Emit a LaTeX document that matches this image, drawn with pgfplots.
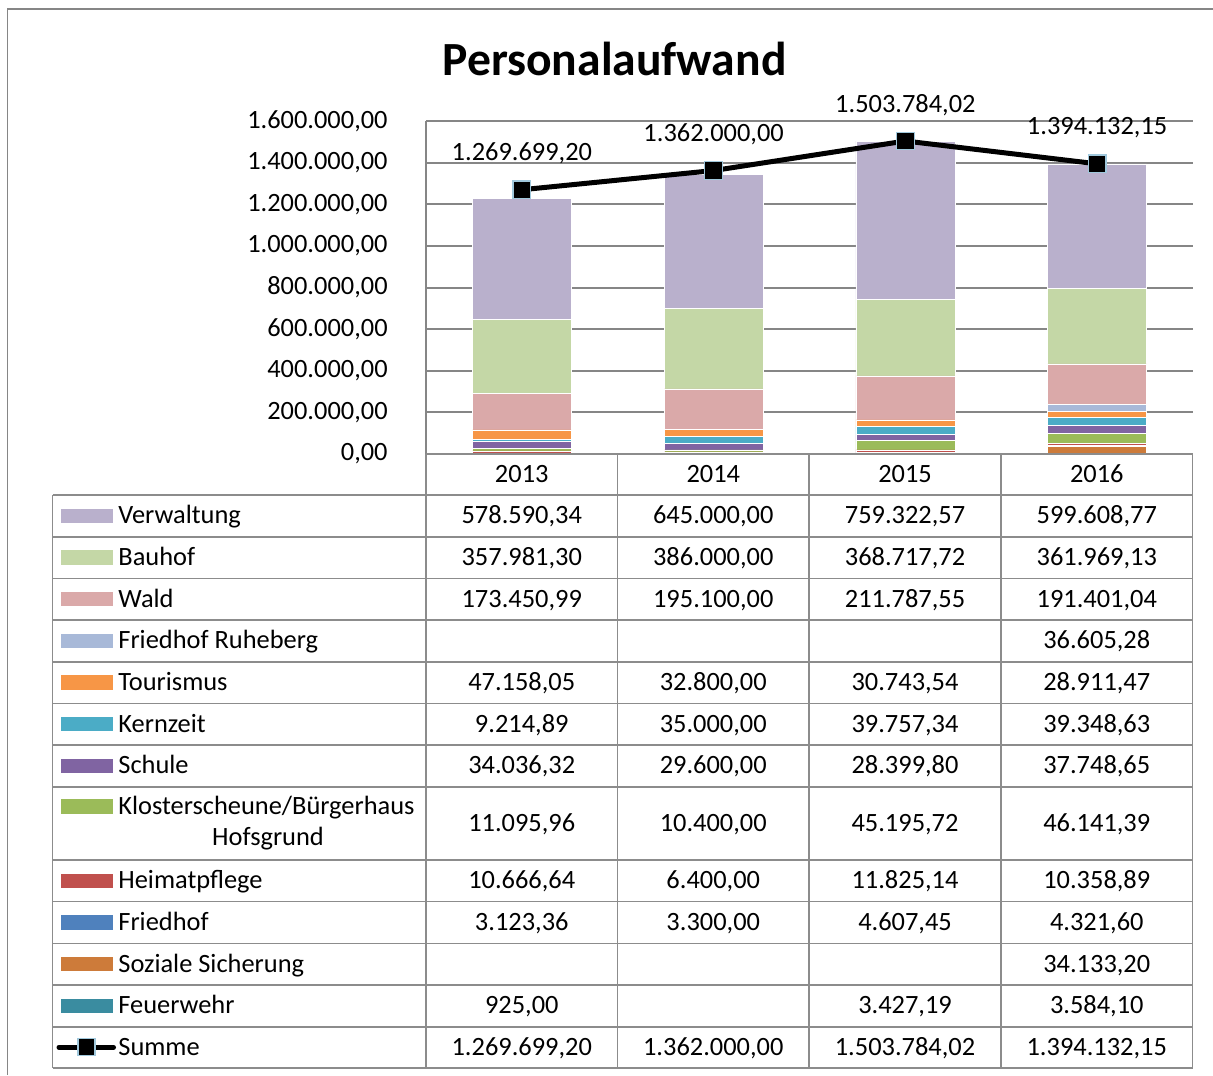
\documentclass[border=0pt]{standalone}
\usepackage{pgfplots}
\pgfplotsset{compat=1.18}
\usepackage{pgfplotstable}
\usepackage{fontspec}
\setmainfont{Carlito}

\definecolor{cVW}{RGB}{185,176,204}
\definecolor{cBH}{RGB}{196,215,166}
\definecolor{cWA}{RGB}{218,169,169}
\definecolor{cRB}{RGB}{168,185,216}
\definecolor{cTO}{RGB}{247,150,70}
\definecolor{cKZ}{RGB}{75,172,198}
\definecolor{cSC}{RGB}{128,100,162}
\definecolor{cKS}{RGB}{155,187,89}
\definecolor{cHP}{RGB}{192,80,77}
\definecolor{cFH}{RGB}{79,129,189}
\definecolor{cSZ}{RGB}{205,123,58}
\definecolor{cFW}{RGB}{58,140,160}
\definecolor{gridgray}{RGB}{134,134,134}
\definecolor{tablegray}{RGB}{140,140,140}
\definecolor{markedge}{RGB}{160,200,220}

\pgfplotstableread{
x fw sz fh hp ks sc kz to rb wa bh vw sum
0 925.00 0 3123.36 10666.64 11095.96 34036.32 9214.89 47158.05 0 173450.99 357981.30 578590.34 1269699.20
1 0 0 3300.00 6400.00 10400.00 29600.00 35000.00 32800.00 0 195100.00 386000.00 645000.00 1362000.00
2 3427.19 0 4607.45 11825.14 45195.72 28399.80 39757.34 30743.54 0 211787.55 368717.72 759322.57 1503784.02
3 3584.10 34133.20 4321.60 10358.89 46141.39 37748.65 39348.63 28911.47 36605.28 191401.04 361969.13 599608.77 1394132.15
}\datatable

\newcommand\lab[3]{\node[anchor=base,inner sep=0pt] at (#1,#2) {#3};}
\newcommand\llab[3]{\node[anchor=base west,inner sep=0pt] at (#1,#2) {#3};}
\newcommand\swatch[2]{\fill[#1] (61,#2-7.3) rectangle (113,#2+7.3);}

\begin{document}
\begin{tikzpicture}[every node/.style={font=\fontsize{13.2}{15.8}\selectfont}]
\useasboundingbox (0,0) rectangle (606.5pt,-537.5pt);

\begin{axis}[
  at={(213pt,-227pt)}, anchor=south west,
  scale only axis, width=383.5pt, height=166.5pt,
  xmin=-0.5, xmax=3.5, ymin=0, ymax=1600000,
  ybar stacked, bar width=49.5pt,
  axis line style={draw=none},
  major tick length=0pt,
  xtick=\empty,
  scaled y ticks=false,
  ytick={0,200000,400000,600000,800000,1000000,1200000,1400000,1600000},
  yticklabels={{0,00},{200.000,00},{400.000,00},{600.000,00},{800.000,00},{1.000.000,00},{1.200.000,00},{1.400.000,00},{1.600.000,00}},
  yticklabel style={anchor=east, inner sep=0pt, xshift=-19pt},
  ymajorgrids, grid style={draw=gridgray, line width=1pt},
  clip=false,
]
\addplot[fill=cFW, draw=white, line width=0.3pt] table[x=x,y=fw]{\datatable};
\addplot[fill=cSZ, draw=white, line width=0.3pt] table[x=x,y=sz]{\datatable};
\addplot[fill=cFH, draw=white, line width=0.3pt] table[x=x,y=fh]{\datatable};
\addplot[fill=cHP, draw=white, line width=0.3pt] table[x=x,y=hp]{\datatable};
\addplot[fill=cKS, draw=white, line width=0.3pt] table[x=x,y=ks]{\datatable};
\addplot[fill=cSC, draw=white, line width=0.3pt] table[x=x,y=sc]{\datatable};
\addplot[fill=cKZ, draw=white, line width=0.3pt] table[x=x,y=kz]{\datatable};
\addplot[fill=cTO, draw=white, line width=0.3pt] table[x=x,y=to]{\datatable};
\addplot[fill=cRB, draw=white, line width=0.3pt] table[x=x,y=rb]{\datatable};
\addplot[fill=cWA, draw=white, line width=0.3pt] table[x=x,y=wa]{\datatable};
\addplot[fill=cBH, draw=white, line width=0.3pt] table[x=x,y=bh]{\datatable};
\addplot[fill=cVW, draw=white, line width=0.3pt] table[x=x,y=vw]{\datatable};
\end{axis}

\begin{axis}[
  at={(213pt,-227pt)}, anchor=south west,
  scale only axis, width=383.5pt, height=166.5pt,
  xmin=-0.5, xmax=3.5, ymin=0, ymax=1600000,
  hide axis, clip=false, scaled y ticks=false,
]
\addplot[black, line width=2.5pt, mark=square*, mark size=4.4pt,
  mark options={fill=black, draw=markedge, line width=0.6pt}] table[x=x,y=sum]{\datatable};
\node[yshift=18pt] at (axis cs:0,1269699.20) {1.269.699,20};
\node[yshift=18pt] at (axis cs:1,1362000.00) {1.362.000,00};
\node[yshift=18pt] at (axis cs:2,1503784.02) {1.503.784,02};
\node[yshift=18pt] at (axis cs:3,1394132.15) {1.394.132,15};
\end{axis}

\begin{scope}[x=0.5pt, y=-0.5pt]
% outer frame
\draw[gridgray, line width=0.75pt] (7.5,1075) -- (7.5,9) -- (1213,9);
% title
\node[anchor=base, inner sep=0pt, font=\fontsize{23.8}{28}\selectfont\bfseries] at (614.5,76) {Personalaufwand};
% y axis line
\draw[gridgray, line width=1pt] (426,121) -- (426,454);
% table lines
\begin{scope}[tablegray, line width=0.8pt]
\draw (426,454) -- (1192.5,454);
\foreach \yy in {495,536.7,578.3,620,661.7,703.3,745,786.7,860,901.6,943.3,985,1026.7,1067.7}
  \draw (52.5,\yy) -- (1192.5,\yy);
\draw (52.5,495) -- (52.5,1067.7);
\foreach \xx in {426,617.5,809,1001,1192.5}
  \draw (\xx,454) -- (\xx,1067.7);
\end{scope}
% header
\lab{521.75}{482.5}{2013}
\lab{713.25}{482.5}{2014}
\lab{905}{482.5}{2015}
\lab{1096.75}{482.5}{2016}
% swatches and labels
\swatch{cVW}{515.85}  \llab{118}{523.9}{Verwaltung}
\swatch{cBH}{557.5}   \llab{118}{565.5}{Bauhof}
\swatch{cWA}{599.15}  \llab{118}{607.2}{Wald}
\swatch{cRB}{640.85}  \llab{118}{648.9}{Friedhof Ruheberg}
\swatch{cTO}{682.5}   \llab{118}{690.5}{Tourismus}
\swatch{cKZ}{724.15}  \llab{118}{732.2}{Kernzeit}
\swatch{cSC}{765.85}  \llab{118}{773.9}{Schule}
\swatch{cKS}{806.5}   \llab{118}{814.7}{Klosterscheune/Bürgerhaus}
\lab{268}{845.7}{Hofsgrund}
\swatch{cHP}{880.8}   \llab{118}{888.8}{Heimatpflege}
\swatch{cFH}{922.45}  \llab{118}{930.5}{Friedhof}
\swatch{cSZ}{964.15}  \llab{118}{972.2}{Soziale Sicherung}
\swatch{cFW}{1005.85} \llab{118}{1013.9}{Feuerwehr}
\draw[black, line width=2.5pt, line cap=round] (59,1047.2) -- (113.5,1047.2);
\draw[markedge, fill=black, line width=0.6pt] (77.9,1038.7) rectangle (94.9,1055.7);
\llab{118}{1055.2}{Summe}
% values
\lab{521.75}{523.9}{578.590,34} \lab{713.25}{523.9}{645.000,00} \lab{905}{523.9}{759.322,57} \lab{1096.75}{523.9}{599.608,77}
\lab{521.75}{565.5}{357.981,30} \lab{713.25}{565.5}{386.000,00} \lab{905}{565.5}{368.717,72} \lab{1096.75}{565.5}{361.969,13}
\lab{521.75}{607.2}{173.450,99} \lab{713.25}{607.2}{195.100,00} \lab{905}{607.2}{211.787,55} \lab{1096.75}{607.2}{191.401,04}
\lab{1096.75}{648.9}{36.605,28}
\lab{521.75}{690.5}{47.158,05} \lab{713.25}{690.5}{32.800,00} \lab{905}{690.5}{30.743,54} \lab{1096.75}{690.5}{28.911,47}
\lab{521.75}{732.2}{9.214,89} \lab{713.25}{732.2}{35.000,00} \lab{905}{732.2}{39.757,34} \lab{1096.75}{732.2}{39.348,63}
\lab{521.75}{773.9}{34.036,32} \lab{713.25}{773.9}{29.600,00} \lab{905}{773.9}{28.399,80} \lab{1096.75}{773.9}{37.748,65}
\lab{521.75}{831.4}{11.095,96} \lab{713.25}{831.4}{10.400,00} \lab{905}{831.4}{45.195,72} \lab{1096.75}{831.4}{46.141,39}
\lab{521.75}{888.8}{10.666,64} \lab{713.25}{888.8}{6.400,00} \lab{905}{888.8}{11.825,14} \lab{1096.75}{888.8}{10.358,89}
\lab{521.75}{930.5}{3.123,36} \lab{713.25}{930.5}{3.300,00} \lab{905}{930.5}{4.607,45} \lab{1096.75}{930.5}{4.321,60}
\lab{1096.75}{972.2}{34.133,20}
\lab{521.75}{1013.9}{925,00} \lab{905}{1013.9}{3.427,19} \lab{1096.75}{1013.9}{3.584,10}
\lab{521.75}{1055.2}{1.269.699,20} \lab{713.25}{1055.2}{1.362.000,00} \lab{905}{1055.2}{1.503.784,02} \lab{1096.75}{1055.2}{1.394.132,15}
\end{scope}
\end{tikzpicture}
\end{document}
